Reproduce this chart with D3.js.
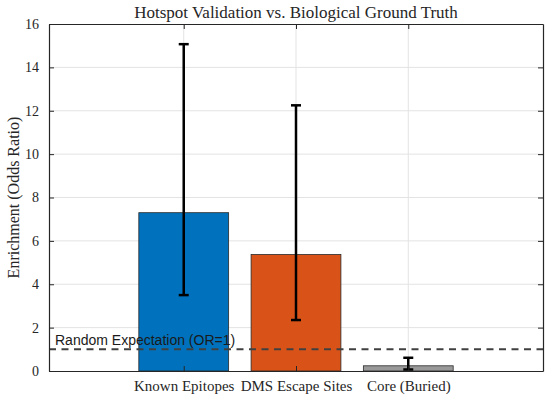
<!DOCTYPE html>
<html>
<head>
<meta charset="utf-8">
<script src="https://cdn.jsdelivr.net/npm/d3@7"></script>
<style>
  body { margin: 0; background: #fff; }
  svg text { font-family: "Liberation Serif", "DejaVu Serif", serif; fill: #262626; }
</style>
</head>
<body>
<div id="chart"></div>
<script>
const WIDTH = 550, HEIGHT = 396;
const MARGIN = { top: 24, right: 7, bottom: 25, left: 49 };

// data
const categories = ["Known Epitopes", "DMS Escape Sites", "Core (Buried)"];
const oddsRatio = [7.3, 5.37, 0.24];
const ciLow = [3.5, 2.35, 0.07];
const ciHigh = [15.07, 12.25, 0.61];
const barColors = ["#0072BD", "#D95319", "#999999"];
const yTicks = [0, 2, 4, 6, 8, 10, 12, 14, 16];
const randomLevel = 1;

const svg = d3.select("#chart").append("svg")
    .attr("width", WIDTH)
    .attr("height", HEIGHT);

const x = d3.scaleLinear()
    .domain([-0.2, 4.2])
    .range([MARGIN.left, WIDTH - MARGIN.right]);
const y = d3.scaleLinear()
    .domain([0, 16])
    .range([HEIGHT - MARGIN.bottom, MARGIN.top]);
const catPos = categories.map((c, i) => i + 1);
const BAR_W = 0.8;

// grid
svg.append("g").selectAll("line").data(yTicks.slice(1, -1)).join("line")
    .attr("x1", x.range()[0]).attr("x2", x.range()[1])
    .attr("y1", d => y(d)).attr("y2", d => y(d))
    .attr("stroke", "#e3e3e3").attr("stroke-width", 1);
svg.append("g").selectAll("line").data(catPos).join("line")
    .attr("x1", d => x(d)).attr("x2", d => x(d))
    .attr("y1", y.range()[0]).attr("y2", y.range()[1])
    .attr("stroke", "#e3e3e3").attr("stroke-width", 1);

// bars
svg.append("g").selectAll("rect").data(oddsRatio).join("rect")
    .attr("x", (d, i) => x(catPos[i] - BAR_W / 2))
    .attr("width", x(BAR_W) - x(0))
    .attr("y", d => y(d))
    .attr("height", d => y(0) - y(d))
    .attr("fill", (d, i) => barColors[i])
    .attr("stroke", "#2a2a2a")
    .attr("stroke-width", 0.8);

// dashed reference line
svg.append("line")
    .attr("x1", x.range()[0]).attr("x2", x.range()[1])
    .attr("y1", y(randomLevel)).attr("y2", y(randomLevel))
    .attr("stroke", "#404040")
    .attr("stroke-width", 2)
    .attr("stroke-dasharray", "7,5.5");

svg.append("text")
    .attr("x", x.range()[0] + 6)
    .attr("y", y(randomLevel) - 4)
    .style("font-family", "'Liberation Sans', Arial, sans-serif")
    .style("font-size", "14px")
    .style("fill", "#1a1a1a")
    .text("Random Expectation (OR=1)");

// error bars
const CAP = 5;
const err = svg.append("g").attr("stroke", "#000").attr("stroke-width", 2.5);
categories.forEach((c, i) => {
    const cx = x(catPos[i]);
    err.append("line").attr("x1", cx).attr("x2", cx)
        .attr("y1", y(ciLow[i])).attr("y2", y(ciHigh[i]));
    err.append("line").attr("x1", cx - CAP).attr("x2", cx + CAP)
        .attr("y1", y(ciLow[i])).attr("y2", y(ciLow[i]));
    err.append("line").attr("x1", cx - CAP).attr("x2", cx + CAP)
        .attr("y1", y(ciHigh[i])).attr("y2", y(ciHigh[i]));
});

// axes (box with inward ticks)
const axisColor = "#262626";
const yAxisL = svg.append("g")
    .attr("transform", `translate(${x.range()[0]},0)`)
    .call(d3.axisLeft(y).tickValues(yTicks).tickSizeInner(-5).tickSizeOuter(0).tickPadding(10));
const yAxisR = svg.append("g")
    .attr("transform", `translate(${x.range()[1]},0)`)
    .call(d3.axisRight(y).tickValues(yTicks).tickSizeInner(-5).tickSizeOuter(0).tickFormat(""));
const xAxisB = svg.append("g")
    .attr("transform", `translate(0,${y.range()[0]})`)
    .call(d3.axisBottom(x).tickValues(catPos).tickSizeInner(-5).tickSizeOuter(0)
        .tickPadding(9).tickFormat((d, i) => categories[i]));
const xAxisT = svg.append("g")
    .attr("transform", `translate(0,${y.range()[1]})`)
    .call(d3.axisTop(x).tickValues(catPos).tickSizeInner(-5).tickSizeOuter(0).tickFormat(""));

[yAxisL, yAxisR, xAxisB, xAxisT].forEach(g => {
    g.select(".domain").attr("stroke", axisColor).attr("stroke-width", 1.2);
    g.selectAll(".tick line").attr("stroke", axisColor).attr("stroke-width", 1);
    g.selectAll("text").style("font-family", "'Liberation Serif', serif").style("fill", "#262626");
});
yAxisL.selectAll("text").style("font-size", "14px");
xAxisB.selectAll("text").style("font-size", "15px");

// title + y label
svg.append("text")
    .attr("x", (x.range()[0] + x.range()[1]) / 2)
    .attr("y", 18)
    .attr("text-anchor", "middle")
    .style("font-size", "17px")
    .text("Hotspot Validation vs. Biological Ground Truth");

svg.append("text")
    .attr("transform", `translate(19,${(y.range()[0] + y.range()[1]) / 2}) rotate(-90)`)
    .attr("text-anchor", "middle")
    .style("font-size", "16px")
    .text("Enrichment (Odds Ratio)");
</script>
</body>
</html>
